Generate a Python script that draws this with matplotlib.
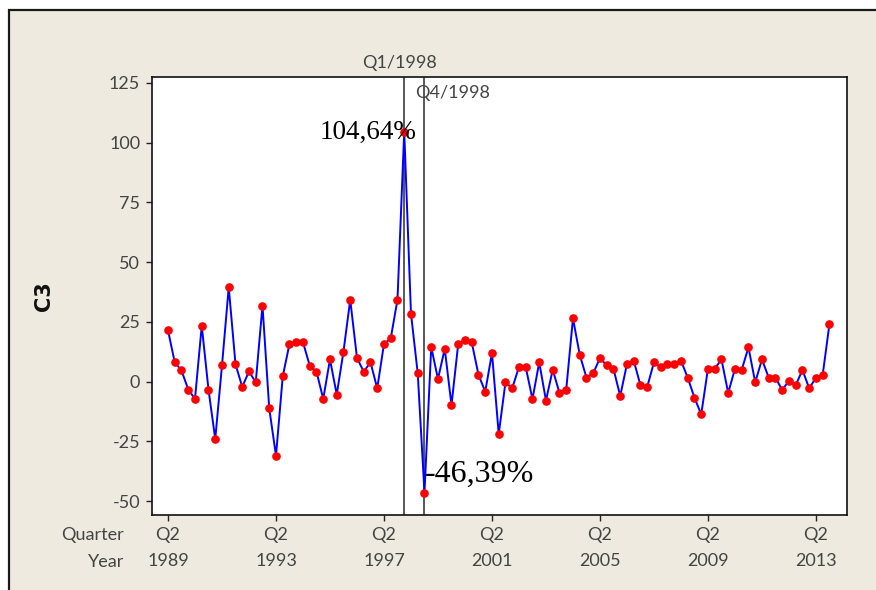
import matplotlib
matplotlib.use("Agg")
import matplotlib.pyplot as plt
from matplotlib.patches import Rectangle
import numpy as np

# ---- data ----
start_year = 1989
start_quarter = 2
values = [21.5, 8.1, 4.7, -3.3, -7.2, 23.4, -3.3, -24.0, 6.8, 39.5,
          7.3, -2.2, 4.3, -0.3, 31.8, -11.2, -31.0, 2.2, 15.8, 16.5,
          16.5, 6.7, 4.2, -7.2, 9.3, -5.4, 12.6, 34.3, 9.9, 4.2,
          8.1, -2.8, 15.8, 18.1, 34.3, 104.64, 28.5, 3.5, -46.39, 14.5,
          1.1, 13.8, -9.8, 15.8, 17.6, 16.5, 2.9, -4.2, 12.0, -21.9,
          -0.3, -2.7, 6.1, 6.1, -7.3, 8.1, -7.9, 5.0, -4.7, -3.3,
          26.5, 11.3, 1.7, 3.5, 9.9, 6.8, 5.4, -6.0, 7.4, 8.8,
          -1.5, -2.2, 8.1, 6.1, 7.4, 7.4, 8.8, 1.7, -6.7, -13.7,
          5.4, 5.4, 9.3, -4.7, 5.4, 4.9, 14.4, -0.3, 9.3, 1.7,
          1.7, -3.5, 0.4, -1.5, 4.9, -2.8, 1.7, 2.9, 24.1]
tick_years = [1989, 1993, 1997, 2001, 2005, 2009, 2013]
tick_quarter_labels = ["Q2"] * len(tick_years)
y_ticks = [-50, -25, 0, 25, 50, 75, 100, 125]
ref_lines = [(1998, 1, "Q1/1998"), (1998, 4, "Q4/1998")]
peak_label = "104,64%"
trough_label = "-46,39%"


def idx(year, q):
    return (year - start_year) * 4 + (q - start_quarter)


x = np.arange(len(values))
W, H = 876, 590
fig = plt.figure(figsize=(W / 100, H / 100), dpi=100, facecolor="white")

# beige frame
fig.patches.append(Rectangle((9 / W, -0.1), 1.2, 1 - 10 / H + 0.1,
                             transform=fig.transFigure, facecolor="#EEEAE0",
                             edgecolor="#1a1a1a", linewidth=1.6, zorder=-5))

ax = fig.add_axes([152 / W, 1 - 515 / H, (847 - 152) / W, (515 - 77) / H])
ax.set_facecolor("white")
ax.set_zorder(1)

lab_font = "Lato"
txt_col = "#444444"

ax.plot(x, values, color="#0000FF", linewidth=1.4, zorder=3)
ax.plot(x, values, linestyle="none", marker="o", markersize=5.2,
        markerfacecolor="#FF0000", markeredgecolor="#FF0000", zorder=4)

for (yr, q, lbl) in ref_lines:
    ax.axvline(idx(yr, q), color="#2a2a2a", linewidth=1.1, zorder=2)

ax.set_xlim(-2.37, 100.6)
ax.set_ylim(-55.8, 127.5)

ax.set_yticks(y_ticks)
ax.set_yticklabels([str(v) for v in y_ticks], fontfamily=lab_font,
                   fontsize=13, color=txt_col)

xt = [idx(y, 2) for y in tick_years]
ax.set_xticks(xt)
ax.set_xticklabels([f"{q}\n{y}" for q, y in zip(tick_quarter_labels, tick_years)],
                   fontfamily=lab_font, fontsize=13, color=txt_col)
for t in ax.get_xticklabels():
    t.set_linespacing(1.78)

ax.tick_params(axis="both", direction="out", length=4.5, width=1.0,
               color="#222222")
ax.tick_params(axis="x", pad=4)
ax.tick_params(axis="y", pad=4)
for s in ax.spines.values():
    s.set_linewidth(1.2)
    s.set_color("#111111")

# row labels
fig.text(124 / W, 1 - 535 / H, "Quarter", ha="right", va="center",
         fontfamily=lab_font, fontsize=13, color=txt_col)
fig.text(124 / W, 1 - 562 / H, "Year", ha="right", va="center",
         fontfamily=lab_font, fontsize=13, color=txt_col)

# y label
fig.text(44 / W, 1 - 296 / H, "C3", rotation=90, ha="center", va="center",
         fontfamily="DejaVu Sans", fontweight="bold", fontsize=15,
         color="#111111")

# reference line labels
r1 = ref_lines[0]
ax.text(idx(r1[0], r1[1]) - 0.7, 133.4, r1[2], ha="center", va="center",
        fontfamily=lab_font, fontsize=13, color=txt_col, clip_on=False)
r2 = ref_lines[1]
ax.text(idx(r2[0], r2[1]) - 1.4, 120.8, r2[2], ha="left", va="center",
        fontfamily=lab_font, fontsize=13, color=txt_col)

# value annotations
i_peak = int(np.argmax(values))
i_tr = int(np.argmin(values))
ax.text(i_peak + 1.75, 101.5, peak_label, ha="right", va="baseline",
        fontfamily="Liberation Serif", fontsize=19.5, color="black", zorder=5)
ax.text(i_tr + 0.07, -42.0, trough_label, ha="left", va="baseline",
        fontfamily="Liberation Serif", fontsize=23, color="black", zorder=5)

fig.savefig("out.png", dpi=100, facecolor="white")
